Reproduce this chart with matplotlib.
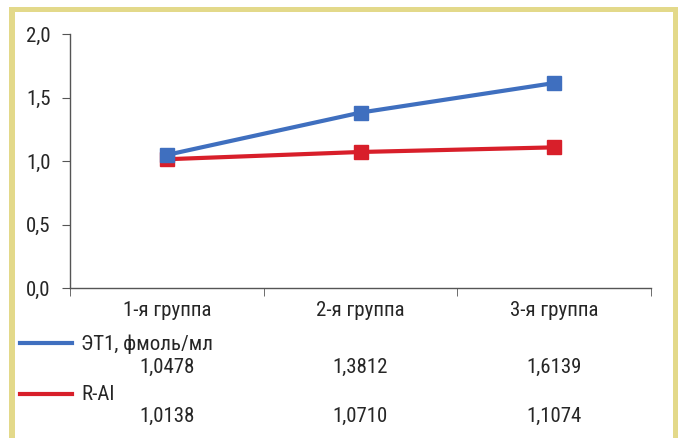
import matplotlib.pyplot as plt
import matplotlib.ticker as mtick
from matplotlib.patches import Rectangle

# --- data ---
groups = ["1-я группа", "2-я группа", "3-я группа"]
et1 = [1.0478, 1.3812, 1.6139]
rai = [1.0138, 1.0710, 1.1074]
series_names = ["ЭТ1, фмоль/мл", "R-AI"]

blue = "#3f6fbf"
red = "#d81f2a"
frame = "#e3d98a"
txt_col = "#262626"

plt.rcParams["font.family"] = ["Roboto Condensed", "DejaVu Sans"]
plt.rcParams["font.size"] = 15

W, H = 678, 438
fig = plt.figure(figsize=(W / 100, H / 100), dpi=100)
ax = fig.add_axes([70 / W, 1 - 288 / H, (651 - 70) / W, (288 - 34) / H])

x = [1, 2, 3]
ax.plot(x, et1, color=blue, lw=3, marker="s", ms=10, zorder=3)
ax.plot(x, rai, color=red, lw=3, marker="s", ms=10, zorder=2)

ax.set_xlim(0.5, 3.5)
ax.set_ylim(0, 2.0)
ax.set_yticks([0, 0.5, 1.0, 1.5, 2.0])
ax.yaxis.set_major_formatter(mtick.FuncFormatter(lambda v, p: f"{v:.1f}".replace(".", ",")))
ax.set_xticks(x)
ax.set_xticklabels(groups)
ax.set_xticks([0.5, 1.5, 2.5, 3.5], minor=True)
ax.tick_params(axis="x", which="major", length=0, pad=9, colors=txt_col)
ax.tick_params(axis="x", which="minor", length=6, direction="out", color="#555")
ax.tick_params(axis="y", length=6, direction="out", color="#555", pad=8, labelcolor=txt_col)

for s in ["top", "right"]:
    ax.spines[s].set_visible(False)
for s in ["left", "bottom"]:
    ax.spines[s].set_color("#555")
    ax.spines[s].set_linewidth(1)

# data table under the chart
trans = ax.get_xaxis_transform()
def ypos(py):
    return (288 - py) / (288 - 34)

rows = [(et1, blue, 343, 367), (rai, red, 394, 416)]
for (vals, col, yl, yv), name in zip(rows, series_names):
    fig.add_artist(plt.Line2D([20 / W, 72 / W], [1 - yl / H] * 2, color=col, lw=3))
    fig.text(81 / W, 1 - (yl + 1) / H, name, ha="left", va="center", color=txt_col)
    for xi, v in zip(x, vals):
        ax.text(xi, ypos(yv), f"{v:.4f}".replace(".", ","), transform=trans,
                ha="center", va="center", color=txt_col, clip_on=False)

# yellow frame
fig.add_artist(Rectangle((9 / W, 0), 6 / W, 1 - 7 / H, transform=fig.transFigure,
                         color=frame, lw=0))
fig.add_artist(Rectangle((9 / W, 1 - 12 / H), (678 - 9) / W, 5 / H,
                         transform=fig.transFigure, color=frame, lw=0))
fig.add_artist(Rectangle((673 / W, 0), 5 / W, 1 - 7 / H, transform=fig.transFigure,
                         color=frame, lw=0))

fig.savefig("out.png", dpi=100)
